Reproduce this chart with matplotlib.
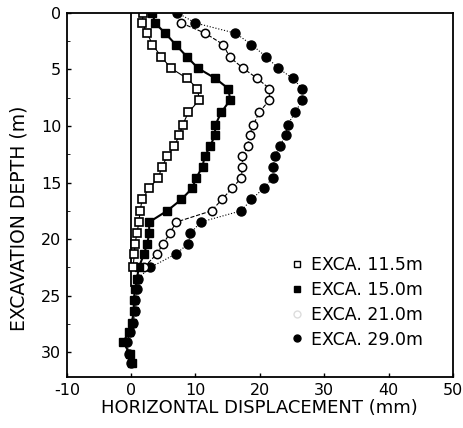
import matplotlib
matplotlib.use("Agg")
import matplotlib.pyplot as plt
from matplotlib.lines import Line2D
from matplotlib.ticker import MultipleLocator

# depth of each inclinometer reading (m)
depth = [0.0, 0.9, 1.8, 2.8, 3.9, 4.9, 5.8, 6.7, 7.7, 8.8, 9.9, 10.8, 11.8,
         12.7, 13.6, 14.6, 15.5, 16.5, 17.5, 18.5, 19.5, 20.4, 21.3, 22.5,
         23.5, 24.4, 25.4, 26.4, 27.4, 28.2, 29.1, 30.2, 31.0]

# horizontal displacement (mm) for each excavation stage
exca_115 = [1.9, 1.7, 2.5, 3.3, 4.7, 6.2, 8.7, 10.3, 10.6, 8.9, 8.0, 7.5, 6.7,
            5.6, 4.8, 4.2, 2.8, 1.7, 1.4, 1.2, 0.9, 0.6, 0.5, 0.3]
exca_150 = [3.3, 3.7, 5.3, 6.9, 8.7, 10.4, 13.1, 15.1, 15.4, 14.0, 13.1, 13.0,
            12.3, 11.4, 11.1, 10.1, 9.5, 7.8, 5.6, 2.8, 2.8, 2.5, 2.0, 1.2,
            0.9, 0.6, 0.4, 0.4, 0.1, -0.4, -1.2, -0.2, 0.1]
exca_210 = [7.8, 11.5, 14.3, 15.3, 17.4, 19.6, 21.5, 21.5, 19.9, 19.0, 18.4,
            18.1, 17.3, 17.3, 17.1, 15.7, 14.1, 12.5, 7.0, 6.0, 5.0, 4.0, 2.0]
exca_290 = [7.2, 10.0, 16.2, 18.7, 21.0, 22.9, 25.1, 26.6, 26.6, 25.5, 24.3,
            24.0, 23.1, 22.3, 22.1, 22.0, 20.6, 18.7, 17.1, 10.8, 9.2, 8.9,
            7.0, 3.0, 1.0, 0.9, 0.6, 0.6, 0.3, -0.2, -0.6, -0.4, 0.0]

labels = ["EXCA. 11.5m", "EXCA. 15.0m", "EXCA. 21.0m", "EXCA. 29.0m"]

plt.rcParams['font.family'] = 'DejaVu Sans'
plt.rcParams['font.size'] = 11.5
plt.rcParams['axes.unicode_minus'] = False

fig = plt.figure(figsize=(4.64, 4.28), dpi=100)
ax = fig.add_axes([0.144, 0.119, 0.832, 0.851])

# wall reference line at zero displacement
ax.axvline(0, ymin=0.25, ymax=1, color='black', lw=1.3)

ax.plot(exca_290, depth, ':', color='black', lw=0.8,
        marker='o', ms=6.5, mfc='black', mec='black')
ax.plot(exca_210, depth[1:len(exca_210) + 1], '--', color='black', lw=0.8,
        marker='o', ms=6, mfc='white', mec='black', mew=1.1)
ax.plot(exca_150, depth, 'none', color='black',
        marker='s', ms=6, mfc='black', mec='black')
ax.plot(exca_115, depth[:len(exca_115)], '-', color='black', lw=0.8,
        marker='s', ms=6, mfc='white', mec='black', mew=1.2)

ax.set_xlim(-10, 50)
ax.set_ylim(32.2, 0)
ax.set_xticks(range(-10, 51, 10))
ax.set_yticks(range(0, 31, 5))
ax.yaxis.set_minor_locator(MultipleLocator(2.5))
ax.tick_params(direction='in', length=3, width=1, pad=4)
ax.tick_params(which='minor', direction='in', length=2)
for s in ax.spines.values():
    s.set_linewidth(1.3)

ax.set_xlabel("HORIZONTAL DISPLACEMENT (mm)", fontsize=13, labelpad=1)
ax.set_ylabel("EXCAVATION DEPTH (m)", fontsize=13.5)
ax.yaxis.set_label_coords(-0.10, 0.437)

handles = [
    Line2D([], [], ls='none', marker='s', ms=5, mfc='white', mec='black'),
    Line2D([], [], ls='none', marker='s', ms=5, mfc='black', mec='black'),
    Line2D([], [], ls='none', marker='o', ms=5, mfc='white', mec='#dddddd'),
    Line2D([], [], ls='none', marker='o', ms=5, mfc='black', mec='black'),
]
ax.legend(handles, labels, loc='upper left', bbox_to_anchor=(0.555, 0.357),
          frameon=False, handlelength=0.8, handletextpad=0.4,
          borderpad=0, labelspacing=0.4, fontsize=12.5)

fig.savefig("out.png", dpi=100)
